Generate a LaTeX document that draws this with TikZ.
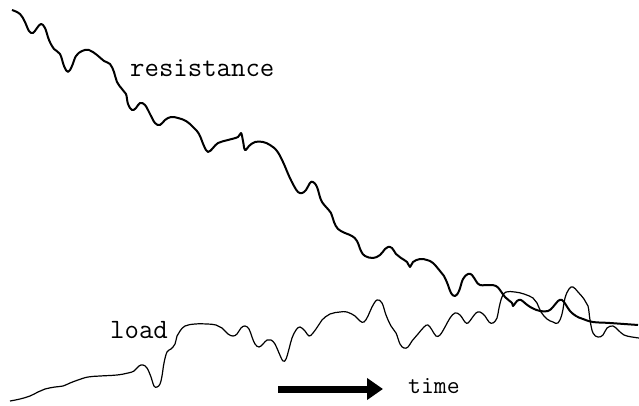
\documentclass[tikz,border=0pt]{standalone}
\usepackage{tikz}
\usetikzlibrary{arrows.meta}

\begin{document}
\begin{tikzpicture}[x=1pt,y=-1pt,
    resline/.style={draw, line width=2pt, line join=round},
    loadline/.style={draw, line width=1.2pt, line join=round},
    lbl/.style={inner sep=0pt, anchor=base west, font=\ttfamily\fontsize{28}{30}\selectfont}]
      \useasboundingbox (0,0) rectangle (639,406);
      \path[resline] plot[smooth, tension=0.65] coordinates {
        (12,10) (20,14) (25,22) (29,31) (33,33) (37,28) (41,24) (45,28) (49,40) (54,49) (60,54)
        (64,66) (68,72) (72,66) (76,56) (82,51) (89,50) (97,55) (104,61) (110,64) (114,72)
        (117,82) (122,89) (126,94) (128,104) (132,110) (136,108) (140,103) (145,105) (150,114)
        (155,123) (160,125) (165,120) (171,117) (178,118) (186,121) (193,127) (199,134) (204,146)
        (208,152) (213,148) (218,143) (228,140) (238,137) (241,133) (243,141) (245,150) (249,146)
        (255,142) (263,142) (270,145) (277,151) (283,162) (289,176) (294,186) (298,192) (302,193)
        (306,190) (310,183) (313,182) (317,187) (321,200) (326,207) (331,213) (334,222) (338,229)
        (345,233) (352,236) (357,241) (361,251) (365,256) (373,258) (380,255) (385,249) (388,247)
        (392,248) (396,254) (401,258) (407,262) (410,267) (413,262) (420,259) (427,260) (433,263)
        (440,271) (444,276) (448,285) (451,293) (455,296) (459,291) (463,279) (468,274) (472,275)
        (476,281) (480,285) (490,285) (496,286) (500,290) (505,297) (512,303) (513,306) (517,301)
        (521,300) (526,304) (532,308) (540,311) (548,311) (553,307) (558,301) (562,300) (566,305)
        (570,311) (576,316) (583,319) (593,322) (610,323) (638,325)};
      \path[loadline] plot[smooth, tension=0.65] coordinates {
        (10,401) (20,399) (30,396) (38,392) (45,389) (55,387) (63,386) (70,383) (78,380) (88,377)
        (100,376) (117,375) (128,373) (134,371) (139,366) (143,365) (147,368) (151,377) (154,386)
        (157,387) (160,384) (162,376) (164,363) (167,352) (171,349) (175,344) (177,336) (180,331)
        (185,326) (195,324) (207,324) (216,325) (222,328) (228,334) (233,336) (237,334) (241,328)
        (245,326) (249,329) (252,337) (255,344) (259,347) (263,344) (267,340) (271,340) (275,344)
        (279,353) (283,361) (286,359) (289,349) (292,338) (296,330) (300,327) (305,331) (309,336)
        (313,333) (318,326) (322,320) (330,314) (340,312) (347,312) (355,316) (360,321) (364,322)
        (368,316) (372,307) (377,300) (382,303) (386,315) (391,326) (396,333) (400,344) (404,348)
        (408,347) (412,341) (418,334) (424,327) (428,325) (432,330) (436,336) (440,335) (445,327)
        (450,318) (455,313) (460,315) (465,322) (468,323) (472,318) (476,313) (480,312) (485,316)
        (489,322) (493,323) (497,318) (499,308) (502,297) (506,292) (515,292) (524,294) (533,298)
        (537,303) (541,312) (547,319) (553,322) (558,323) (562,314) (565,298) (569,289) (573,287)
        (578,292) (584,299) (588,306) (590,320) (593,333) (598,337) (603,335) (607,328) (613,326)
        (618,330) (624,335) (632,337) (639,338)};
      \node[lbl] (res) at (130,77) {resistance};
      \node[lbl] (load) at (110,338) {load};
      \node[lbl, font=\ttfamily\fontsize{25}{27}\selectfont] (time) at (408,393) {time};
      \coordinate (t0) at (278,389);
      \coordinate (t1) at (383,389);
      \draw[line width=7pt, -{Triangle[length=16pt, width=21pt]}] (t0) -- (t1);
  \end{tikzpicture}
\end{document}
